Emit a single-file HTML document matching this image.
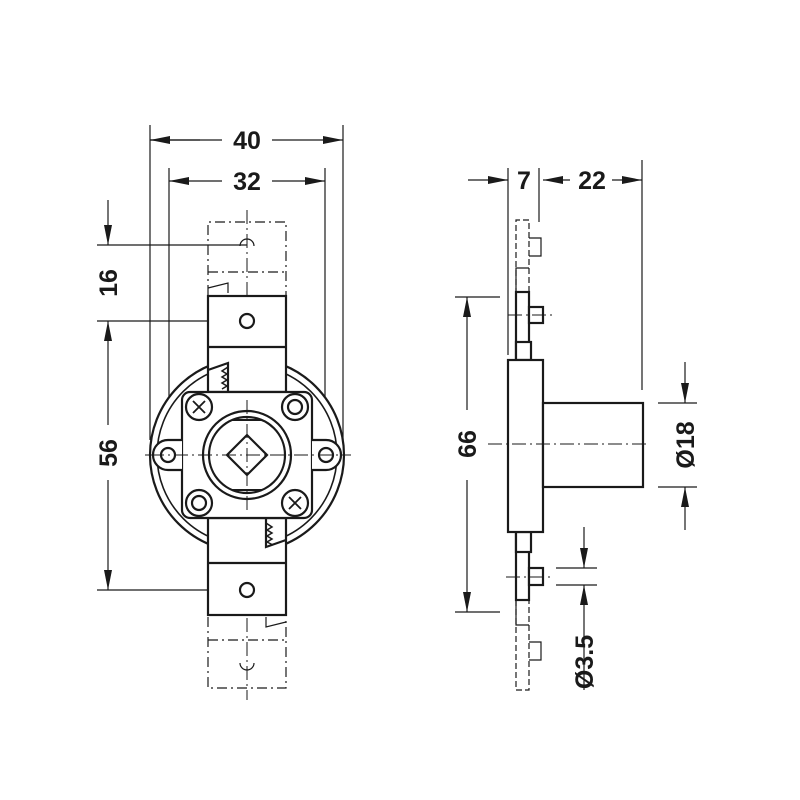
<!DOCTYPE html>
<html><head><meta charset="utf-8"><style>body{margin:0;background:#fff}svg{display:block}</style></head><body>
<svg width="800" height="800" viewBox="0 0 800 800" xmlns="http://www.w3.org/2000/svg" font-family="Liberation Sans, sans-serif" font-weight="bold" font-size="25" fill="none" stroke="#1a1a1a">
<defs>
<marker id="a" viewBox="0 0 20 8" refX="20" refY="4" markerWidth="20" markerHeight="8" markerUnits="userSpaceOnUse" orient="auto"><path d="M0,0L20,4L0,8z" fill="#1a1a1a" stroke="none"/></marker>
</defs>
<!-- FRONT VIEW dims -->
<g stroke-width="1.2">
<line x1="150" y1="125" x2="150" y2="440"/><line x1="343" y1="125" x2="343" y2="440"/>
<line x1="169" y1="168" x2="169" y2="455"/><line x1="325" y1="168" x2="325" y2="455"/>
<line x1="200" y1="140" x2="150" y2="140" marker-end="url(#a)"/><line x1="150" y1="140" x2="222" y2="140"/>
<line x1="272" y1="140" x2="343" y2="140" marker-end="url(#a)"/>
<line x1="222" y1="181" x2="169" y2="181" marker-end="url(#a)"/>
<line x1="272" y1="181" x2="325" y2="181" marker-end="url(#a)"/>
<line x1="97" y1="245" x2="247" y2="245"/><line x1="97" y1="321" x2="247" y2="321"/><line x1="97" y1="590" x2="247" y2="590"/>
<line x1="108" y1="200" x2="108" y2="245" marker-end="url(#a)"/>
<line x1="108" y1="425" x2="108" y2="321" marker-end="url(#a)"/>
<line x1="108" y1="480" x2="108" y2="590" marker-end="url(#a)"/>
</g>
<g fill="#1a1a1a" stroke="none">
<text x="247" y="149" text-anchor="middle">40</text>
<text x="247" y="190" text-anchor="middle">32</text>
<text transform="translate(117,283) rotate(-90)" text-anchor="middle">16</text>
<text transform="translate(117,453) rotate(-90)" text-anchor="middle">56</text>
</g>
<!-- centerlines -->
<g stroke-width="1" stroke-dasharray="14,4,2,4">
<line x1="247" y1="210" x2="247" y2="700"/>
<line x1="145" y1="455" x2="352" y2="455"/>
</g>
<!-- dashed blocks -->
<g stroke-width="1.2" stroke-dasharray="10,4,2,4">
<path d="M208,295V222H286V295"/><line x1="208" y1="272" x2="286" y2="272"/>
<path d="M208,617V688H286V617"/><line x1="208" y1="640" x2="286" y2="640"/>
</g>
<g stroke-width="1.2">
<path d="M240,246a7,7 0 0 1 14,0M240,663a7,7 0 0 0 14,0"/>
<path d="M208,288l20,-5v10M286,622l-20,5v-10"/>
</g>
<!-- housing ring -->
<g stroke-width="2.2">
<circle cx="247" cy="455" r="97" fill="#fff"/>
<circle cx="247" cy="455" r="90" stroke-width="1.6"/>
</g>
<!-- bolt -->
<g stroke-width="2.2">
<rect x="208" y="296" width="78" height="96" fill="#fff"/>
<line x1="208" y1="347" x2="286" y2="347"/>
<rect x="208" y="518" width="78" height="97" fill="#fff"/>
<line x1="208" y1="563" x2="286" y2="563"/>
<circle cx="247" cy="321" r="7"/><circle cx="247" cy="590" r="7"/>
<path d="M228,392V363l-20,7M266,518v29l20,-7"/>
<path d="M228,367l-6,4 5,3-5,3 5,3-5,3 5,3-5,3" stroke-width="1.5"/>
<path d="M266,523l6,4-5,3 5,3-5,3 5,3-5,3 6,3" stroke-width="1.5"/>
<rect x="182" y="392" width="130" height="126" rx="8" fill="#fff"/>
<path d="M182,440h-14a15,15 0 0 0 0,30h14M312,440h14a15,15 0 0 1 0,30h-14" fill="#fff"/>
<circle cx="168" cy="455" r="7"/><circle cx="326" cy="455" r="7"/>
<circle cx="199" cy="407" r="13" fill="#fff"/><circle cx="295" cy="407" r="13" fill="#fff"/>
<circle cx="199" cy="503" r="13" fill="#fff"/><circle cx="295" cy="503" r="13" fill="#fff"/>
<circle cx="295" cy="407" r="7"/><circle cx="199" cy="503" r="7"/>
<path d="M193,401l12,12M205,401l-12,12M289,497l12,12M301,497l-12,12" stroke-width="1.8"/>
<circle cx="247" cy="455" r="44" fill="#fff"/>
<circle cx="247" cy="455" r="38"/>
<path d="M232,420h30M232,490h30" stroke-width="2"/>
<path d="M227,455l20,-20 20,20 -20,20z"/>
</g>
<g stroke-width="1" stroke-dasharray="14,4,2,4">
<line x1="247" y1="400" x2="247" y2="510"/><line x1="150" y1="455" x2="345" y2="455"/>
</g>
<!-- SIDE VIEW -->
<g stroke-width="1.2">
<line x1="508" y1="168" x2="508" y2="355"/><line x1="539" y1="168" x2="539" y2="222"/><line x1="642" y1="160" x2="642" y2="390"/>
<line x1="468" y1="180" x2="508" y2="180" marker-end="url(#a)"/>
<line x1="570" y1="180" x2="543" y2="180" marker-end="url(#a)"/>
<line x1="612" y1="180" x2="642" y2="180" marker-end="url(#a)"/>
<line x1="455" y1="297" x2="500" y2="297"/><line x1="455" y1="612" x2="500" y2="612"/>
<line x1="467" y1="410" x2="467" y2="297" marker-end="url(#a)"/>
<line x1="467" y1="480" x2="467" y2="612" marker-end="url(#a)"/>
<line x1="658" y1="403" x2="697" y2="403"/><line x1="658" y1="487" x2="697" y2="487"/>
<line x1="685" y1="362" x2="685" y2="403" marker-end="url(#a)"/>
<line x1="685" y1="530" x2="685" y2="487" marker-end="url(#a)"/>
<line x1="556" y1="568" x2="597" y2="568"/><line x1="556" y1="585" x2="597" y2="585"/>
<line x1="584" y1="527" x2="584" y2="568" marker-end="url(#a)"/>
<line x1="584" y1="690" x2="584" y2="585" marker-end="url(#a)"/>
</g>
<g fill="#1a1a1a" stroke="none">
<text x="524" y="189" text-anchor="middle">7</text>
<text x="592" y="189" text-anchor="middle">22</text>
<text transform="translate(476,444) rotate(-90)" text-anchor="middle">66</text>
<text transform="translate(694,445) rotate(-90)" text-anchor="middle">Ø18</text>
<text transform="translate(593,662) rotate(-90)" text-anchor="middle">Ø3.5</text>
</g>
<g stroke-width="1.2" stroke-dasharray="6,3">
<path d="M529,292V220H516V292M516,600V690H529V600"/>
</g>
<g stroke-width="1.2">
<path d="M529,238h12v18h-12M529,268h-13v24M529,642h12v18h-12M529,625h-13v-25"/>
</g>
<g stroke-width="2.2" fill="#fff">
<rect x="516" y="292" width="13" height="308"/>
<rect x="529" y="307" width="14" height="16"/><rect x="529" y="568" width="14" height="17"/>
<rect x="516" y="342" width="15" height="18"/><rect x="516" y="532" width="15" height="20"/>
<rect x="508" y="360" width="35" height="172"/>
<rect x="543" y="403" width="100" height="84"/>
</g>
<g stroke-width="1" stroke-dasharray="14,4,2,4">
<line x1="488" y1="444" x2="650" y2="444"/>
<line x1="508" y1="315" x2="553" y2="315"/><line x1="506" y1="577" x2="550" y2="577"/>
</g>
</svg>
</body></html>
